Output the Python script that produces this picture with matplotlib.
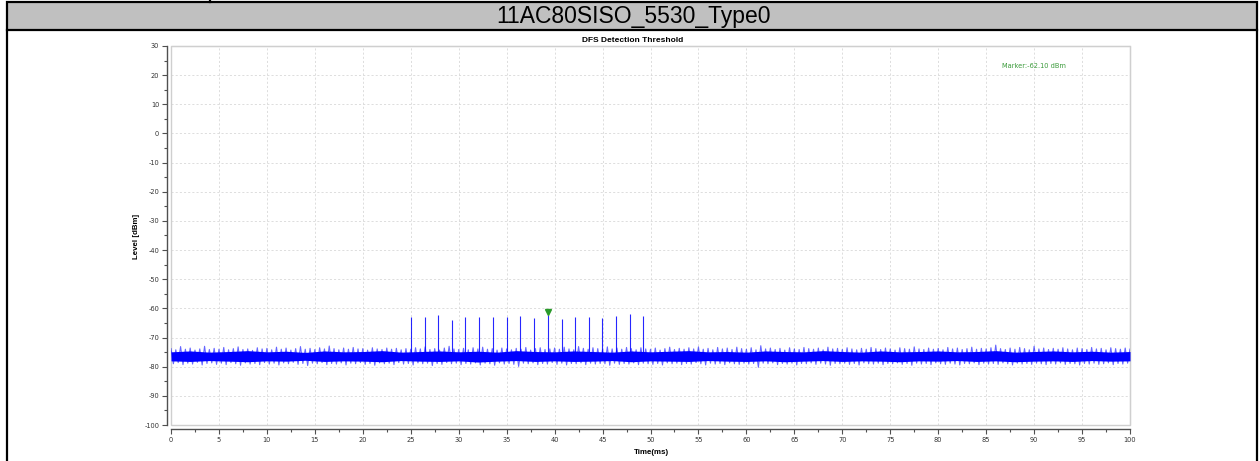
import numpy as np
import matplotlib
matplotlib.use("Agg")
import matplotlib.pyplot as plt
from matplotlib.patches import Rectangle
from matplotlib.lines import Line2D
from matplotlib.transforms import ScaledTranslation

plt.rcParams["axes.unicode_minus"] = False

# ---- data ----
header = "11AC80SISO_5530_Type0"
title = "DFS Detection Threshold"

# noise trace envelope, one reading every 0.5 ms (0 .. 100 ms)
noise_hi = [
    -73.8, -74.2, -73.1, -74.0, -73.6, -74.3, -73.9, -73.0, -74.1, -73.7,
    -74.0, -73.4, -74.2, -73.8, -73.2, -74.1, -73.9, -74.4, -73.5, -73.9,
    -73.7, -74.2, -73.3, -74.0, -73.6, -74.3, -73.8, -73.1, -74.0, -73.7,
    -74.1, -73.5, -73.9, -72.9, -73.8, -74.2, -73.6, -74.0, -73.4, -73.9,
    -73.8, -74.3, -73.5, -73.9, -74.1, -73.6, -74.0, -73.7, -74.2, -73.8,
    -74.0, -73.5, -73.9, -73.2, -74.1, -73.8, -74.3, -73.6, -73.0, -73.9,
    -74.1, -73.7, -74.2, -73.5, -73.9, -73.3, -74.0, -73.8, -74.3, -73.6,
    -73.9, -74.2, -73.7, -74.0, -73.4, -74.3, -73.8, -73.5, -74.1, -73.9,
    -73.6, -74.0, -73.3, -73.9, -74.2, -73.1, -73.7, -74.0, -73.5, -73.8,
    -74.1, -73.2, -73.9, -73.6, -74.0, -73.4, -73.8, -74.2, -73.5, -73.9,
    -74.0, -73.6, -74.3, -73.8, -73.3, -74.1, -73.7, -74.0, -73.5, -73.9,
    -73.2, -74.0, -73.7, -74.2, -73.4, -73.9, -73.6, -74.1, -73.3, -73.8,
    -74.0, -73.5, -74.2, -72.8, -73.9, -73.6, -74.1, -73.7, -74.3, -73.5,
    -73.9, -74.1, -73.4, -73.8, -74.0, -73.6, -74.2, -73.3, -73.9, -73.7,
    -74.1, -73.5, -73.9, -74.2, -73.7, -74.0, -73.4, -73.8, -74.1, -73.6,
    -73.9, -74.3, -73.5, -73.8, -74.0, -73.2, -73.9, -74.1, -73.6, -74.0,
    -73.7, -74.2, -73.4, -73.9, -73.6, -74.1, -73.8, -73.3, -74.0, -73.7,
    -73.9, -73.5, -72.6, -73.8, -74.1, -73.6, -74.0, -73.4, -73.8, -74.2,
    -73.0, -73.9, -73.6, -74.1, -73.7, -74.0, -73.5, -73.9, -74.2, -73.6,
    -73.8, -74.1, -73.4, -73.9, -73.7, -74.2, -73.5, -73.8, -74.0, -73.6,
    -73.9,
]
noise_lo = [
    -79.0, -78.6, -79.3, -78.8, -79.1, -78.5, -79.4, -78.9, -78.7, -79.2,
    -78.8, -79.3, -78.6, -79.0, -79.5, -78.7, -79.1, -78.9, -79.3, -78.6,
    -79.1, -78.8, -79.4, -78.7, -79.0, -78.5, -79.2, -78.9, -79.6, -78.8,
    -79.0, -78.6, -79.3, -78.9, -79.1, -78.7, -79.4, -78.8, -79.0, -78.6,
    -79.2, -78.9, -79.5, -78.7, -79.0, -78.8, -79.3, -78.6, -79.1, -78.9,
    -79.4, -78.7, -79.0, -78.8, -79.6, -78.9, -79.2, -78.6, -79.0, -78.8,
    -79.3, -78.9, -79.1, -78.7, -79.4, -78.8, -79.0, -79.5, -78.7, -79.1,
    -78.9, -79.2, -79.9, -78.8, -79.0, -78.7, -79.3, -78.9, -79.1, -78.6,
    -79.2, -78.8, -79.4, -78.9, -79.0, -78.7, -79.3, -78.8, -79.1, -78.9,
    -79.0, -79.5, -78.8, -79.2, -78.9, -79.1, -78.7, -79.3, -78.8, -79.0,
    -79.2, -78.9, -79.4, -78.7, -79.0, -78.8, -79.3, -78.9, -79.1, -78.6,
    -79.0, -79.4, -78.8, -79.1, -78.9, -79.3, -78.7, -79.0, -79.2, -78.8,
    -79.1, -78.9, -80.2, -78.8, -79.0, -78.7, -79.3, -78.9, -79.1, -78.8,
    -79.4, -78.9, -79.0, -78.7, -79.2, -78.8, -79.1, -79.5, -78.9, -79.0,
    -78.8, -79.2, -78.9, -79.4, -78.7, -79.0, -79.1, -78.8, -79.3, -78.9,
    -79.0, -78.7, -79.2, -78.9, -79.5, -78.8, -79.1, -78.9, -79.3, -78.7,
    -79.0, -79.2, -78.8, -79.1, -79.4, -78.9, -79.0, -78.7, -79.3, -78.8,
    -79.1, -78.9, -79.2, -78.7, -79.0, -79.4, -78.8, -79.1, -78.9, -79.2,
    -78.8, -79.0, -79.3, -78.9, -79.1, -78.7, -79.2, -78.9, -79.0, -79.4,
    -78.9, -79.1, -78.8, -79.2, -79.0, -78.7, -79.3, -78.9, -79.1, -78.8,
    -79.0,
]
# dense core of the trace, one reading every 2 ms
core_hi = [
    -74.9, -74.6, -75.0, -74.8, -74.5, -74.9, -74.7, -75.1, -74.6, -74.9,
    -74.8, -74.5, -75.0, -74.8, -74.6, -74.9, -74.7, -75.0, -74.5, -74.8,
    -74.9, -74.6, -74.8, -75.0, -74.6, -74.9, -74.7, -74.5, -74.9, -74.8,
    -75.0, -74.6, -74.8, -74.9, -74.5, -74.8, -75.0, -74.6, -74.9, -74.8,
    -74.6, -74.9, -74.8, -74.5, -75.0, -74.8, -74.6, -74.9, -74.7, -75.0,
    -74.8,
]
core_lo = [
    -78.0, -78.2, -77.9, -78.1, -78.3, -78.0, -78.1, -77.8, -78.2, -78.0,
    -78.1, -78.3, -77.9, -78.1, -78.2, -78.0, -78.4, -78.1, -77.9, -78.2,
    -78.0, -78.2, -78.1, -77.9, -78.3, -78.0, -78.1, -78.2, -77.9, -78.1,
    -78.2, -78.0, -78.3, -78.1, -77.9, -78.2, -78.0, -78.1, -78.3, -78.0,
    -78.1, -77.9, -78.2, -78.0, -78.3, -78.1, -78.0, -78.2, -77.9, -78.1,
    -78.0,
]

# radar pulses (ms, dBm)
pulse_t = [25.03, 26.45, 27.87, 29.33, 30.69, 32.15, 33.60, 35.00, 36.42,
           37.85, 39.28, 40.74, 42.13, 43.55, 44.98, 46.44, 47.84, 49.26]
pulse_peak = [-62.9, -63.1, -62.4, -64.0, -63.1, -62.9, -63.1, -62.9, -62.6,
              -63.3, -62.1, -63.8, -63.1, -62.9, -63.3, -62.6, -62.0, -62.6]
pulse_base = -76.5

marker_t = 39.28
marker_level = -62.10

W, H = 1260, 461
fig = plt.figure(figsize=(W / 100, H / 100), dpi=100)
fig.patch.set_facecolor("white")

# header bar and outer frame
fig.patches.append(Rectangle((7 / W, (H - 30) / H), 1250 / W, 28 / H,
                             transform=fig.transFigure, facecolor="#c0c0c0",
                             edgecolor="black", linewidth=1.6))
for xp in (7, 1257):
    fig.lines.append(Line2D([xp / W, xp / W], [0, (H - 30) / H],
                            transform=fig.transFigure, color="black", lw=1.6))
fig.lines.append(Line2D([209.5 / W, 209.5 / W], [(H - 2) / H, 1],
                        transform=fig.transFigure, color="black", lw=1.6))
fig.text(633 / W, (H - 16) / H, header, ha="center", va="center",
         fontsize=16.5, family="Liberation Sans")

ax = fig.add_axes([171 / W, 36 / H, 959 / W, 379 / H])
ax.set_xlim(0, 100)
ax.set_ylim(-100, 30)

# noise trace: zigzag through envelope readings, plus dense core
t_half = np.linspace(0, 100, len(noise_hi))
zx = np.column_stack([t_half, t_half + 0.25]).ravel()
zy = np.column_stack([noise_hi, noise_lo]).ravel()
ax.plot(zx, zy, color="#0000ff", lw=0.8, alpha=0.6, zorder=3)
t_core = np.linspace(0, 100, len(core_hi))
ax.fill_between(t_core, core_lo, core_hi, color="#0000ff", lw=0, zorder=3)

ax.vlines(pulse_t, pulse_base, pulse_peak, color="#0000ff", lw=0.8,
          alpha=0.85, zorder=4)

off = ScaledTranslation(0, 2.5 / 100, fig.dpi_scale_trans)
ax.plot([marker_t], [marker_level], marker="v", ms=4, color="#2a9a2a",
        transform=ax.transData + off, zorder=5, clip_on=False)
ax.text(90.0, 23.0, "Marker:-62.10 dBm", color="#3a9a3a", fontsize=4.8,
        ha="center", va="center")

# grid, frame and ticks
ax.set_xticks(np.arange(0, 101, 5))
ax.set_yticks(np.arange(-100, 31, 10))
ax.set_xticks(np.arange(2.5, 100, 5), minor=True)
ax.set_yticks(np.arange(-95, 30, 10), minor=True)
ax.grid(True, which="major", color="#d8d8d8", lw=0.6, linestyle=(0, (2.5, 2.5)))
for s in ("top", "right"):
    ax.spines[s].set_color("#cfcfcf")
for s in ("left", "bottom"):
    ax.spines[s].set_position(("outward", 3))
    ax.spines[s].set_color("#505050")
    ax.spines[s].set_linewidth(1.0)
ax.add_patch(Rectangle((0, 0), 1, 1, transform=ax.transAxes, fill=False,
                       edgecolor="#cfcfcf", lw=1.0, clip_on=False, zorder=2))
ax.tick_params(which="major", length=3.5, width=0.8, color="#505050",
               labelsize=4.8, pad=2, labelcolor="#333333")
ax.tick_params(which="minor", length=2, width=0.8, color="#505050")

fig.text(632.8 / W, (H - 40) / H, title, ha="center", va="center",
         fontsize=6, fontweight="bold", family="Liberation Sans")
fig.text(136 / W, (H - 236) / H, "Level [dBm]", rotation=90, ha="center",
         va="center", fontsize=5.7, fontweight="bold", family="Liberation Sans")
fig.text(651 / W, 9 / H, "Time(ms)", ha="center", va="center",
         fontsize=5.7, fontweight="bold", family="Liberation Sans")

fig.savefig("out.png", dpi=100)
